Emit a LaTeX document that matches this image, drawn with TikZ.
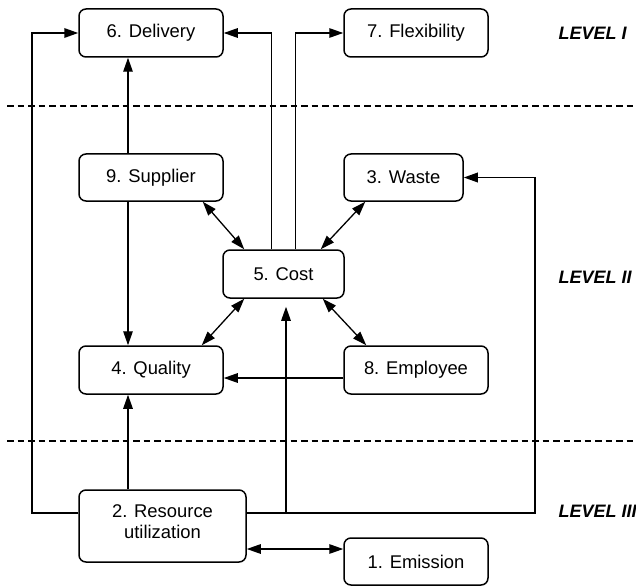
\documentclass[tikz,border=0pt]{standalone}
\usepackage{fontspec}
\setmainfont{Liberation Sans}
\usetikzlibrary{arrows.meta}
\begin{document}
\begin{tikzpicture}[x=1bp,y=-1bp,
  font=\fontsize{18.4bp}{21bp}\selectfont,
  box/.style={draw,line width=1.5bp,rounded corners=7bp,inner sep=0pt,align=center},
  conn/.style={line width=1.3bp,-{Triangle[length=14bp,width=9.5bp]}},
  biconn/.style={line width=1.3bp,{Triangle[length=14bp,width=9.5bp]}-{Triangle[length=14bp,width=9.5bp]}},
  thickline/.style={line width=1.8bp},
  levellabel/.style={anchor=west,font=\fontsize{18bp}{21bp}\selectfont\bfseries\itshape},
  sep/.style={dashed,line width=1.4bp,dash pattern=on 6.5bp off 4bp}]
\useasboundingbox (0,0) rectangle (636,588);

\node[box,minimum width=144bp,minimum height=48bp] (d) at (151,33) {6. Delivery};
\node[box,minimum width=144bp,minimum height=48bp] (f) at (416,33) {7. Flexibility};
\node[box,minimum width=144bp,minimum height=47bp] (s) at (151,177.5) {9. Supplier};
\node[box,minimum width=119bp,minimum height=47bp] (w) at (403.5,177.5) {3. Waste};
\node[box,minimum width=121bp,minimum height=48bp] (c) at (283.5,274) {5. Cost};
\node[box,minimum width=144bp,minimum height=48bp] (q) at (151,370) {4. Quality};
\node[box,minimum width=144bp,minimum height=48bp] (e) at (416,370) {8. Employee};
\node[box,minimum width=167bp,minimum height=72bp,text depth=8bp] (r) at (162.5,526) {2. Resource\\utilization};
\node[box,minimum width=144bp,minimum height=47bp] (m) at (416,561.5) {1. Emission};

\node[levellabel] (l1) at (555,33) {LEVEL I};
\node[levellabel] (l2) at (555,277) {LEVEL II};
\node[levellabel] (l3) at (555,511) {LEVEL III};

\draw[sep] (7,106) -- (636,106);
\draw[sep] (7,441) -- (636,441);

\coordinate (L) at (32,513);
\coordinate (R) at (535,513);
\coordinate (cu) at (286,513);
\coordinate (xa) at (128,0);
\coordinate (ye) at (0,549);

% outer loops
\draw[thickline,-{Triangle[length=14bp,width=9.5bp]}] (r.west |- L) -- (L) -- (L |- d.west) -- (d.west);
\draw[thickline,-{Triangle[length=14bp,width=9.5bp]}] (r.east |- R) -- (R) -- (R |- w.east) -- (w.east);
\draw[conn,shorten >=8bp] (cu) -- (cu |- c.south);

% cost to level I
\draw[conn] ([xshift=-12bp]c.north) |- (d.east);
\draw[conn] ([xshift=12bp]c.north) |- (f.west);

% vertical arrows on left
\draw[conn] (s.north -| xa) -- (d.south -| xa);
\draw[conn] (s.south -| xa) -- (q.north -| xa);
\draw[conn] (r.north -| xa) -- (q.south -| xa);

% diagonals
\draw[biconn] ([xshift=-21bp]s.south east) -- ([xshift=22bp]c.north west);
\draw[biconn] ([xshift=22bp]w.south west) -- ([xshift=-24bp]c.north east);
\draw[biconn] ([xshift=-22bp]q.north east) -- ([xshift=22bp]c.south west);
\draw[biconn] ([xshift=23bp]e.north west) -- ([xshift=-22bp]c.south east);

% employee to quality
\draw[conn] ([yshift=-8bp]e.west) -- ([yshift=-8bp]q.east);

% resource <-> emission
\draw[biconn] (r.east |- ye) -- (m.west |- ye);
\end{tikzpicture}
\end{document}
